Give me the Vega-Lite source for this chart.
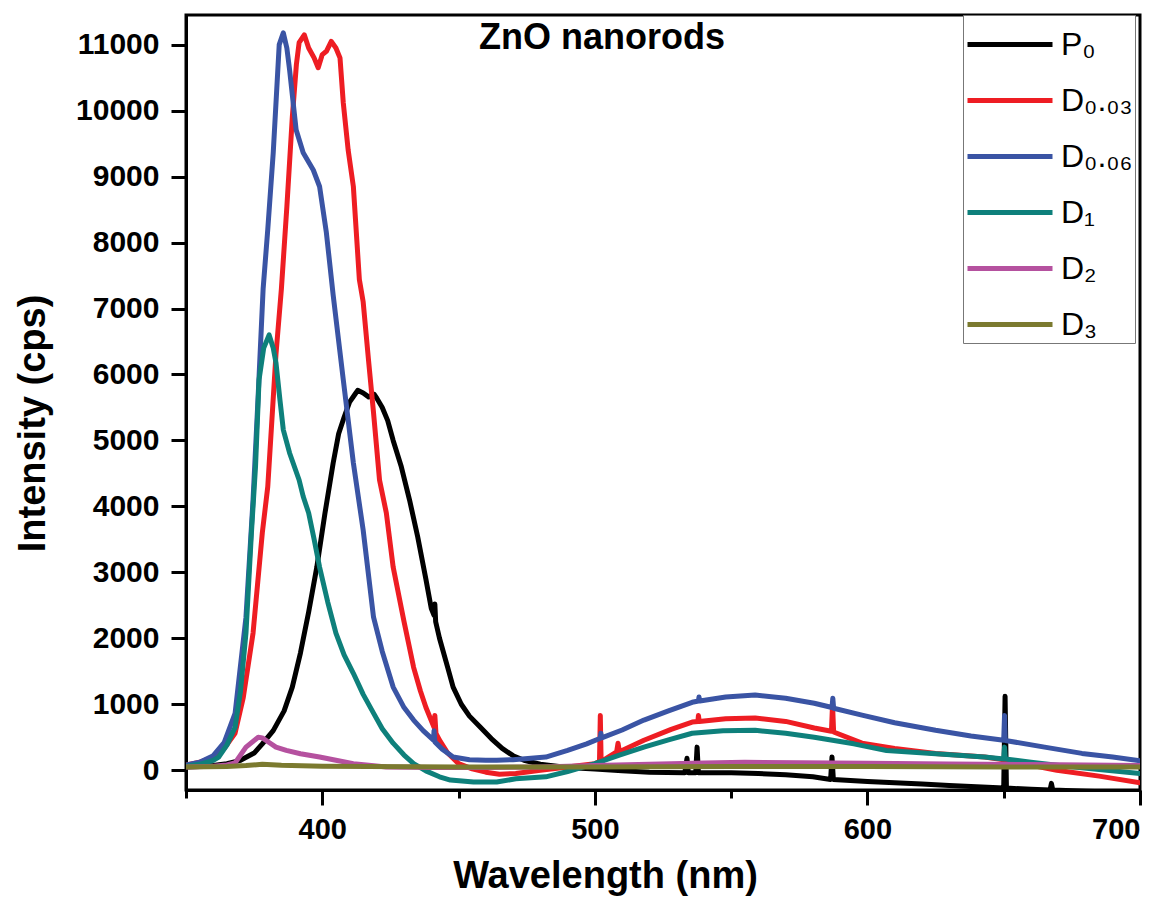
{
  "$schema": "https://vega.github.io/schema/vega-lite/v6.json",
  "width": 954,
  "height": 775,
  "autosize": {"type": "none"},
  "padding": {"left": 186, "top": 15, "right": 27, "bottom": 107},
  "background": "white",
  "config": {
    "view": {"stroke": "black", "strokeWidth": 3},
    "font": "Liberation Sans",
    "axis": {"grid": false, "domainColor": "black", "tickColor": "black", "domainWidth": 3, "tickWidth": 3, "labelColor": "black", "titleColor": "black", "labelFont": "Liberation Sans", "titleFont": "Liberation Sans"}
  },
  "layer": [
    {
      "data": {"values": [
        {"s":"P₀","x":350,"y":50},{"s":"P₀","x":355,"y":55},{"s":"P₀","x":360,"y":70},{"s":"P₀","x":365,"y":100},{"s":"P₀","x":370,"y":150},{"s":"P₀","x":375,"y":260},{"s":"P₀","x":378,"y":400},{"s":"P₀","x":382,"y":600},{"s":"P₀","x":386,"y":900},{"s":"P₀","x":389,"y":1260},{"s":"P₀","x":392,"y":1780},{"s":"P₀","x":395,"y":2400},{"s":"P₀","x":398,"y":3080},{"s":"P₀","x":401,"y":3900},{"s":"P₀","x":404,"y":4660},{"s":"P₀","x":406,"y":5100},{"s":"P₀","x":408,"y":5350},{"s":"P₀","x":410,"y":5580},{"s":"P₀","x":412,"y":5700},{"s":"P₀","x":413,"y":5760},{"s":"P₀","x":415,"y":5720},{"s":"P₀","x":417,"y":5660},{"s":"P₀","x":419,"y":5700},{"s":"P₀","x":420,"y":5640},{"s":"P₀","x":422,"y":5500},{"s":"P₀","x":424,"y":5300},{"s":"P₀","x":426,"y":5000},{"s":"P₀","x":429,"y":4600},{"s":"P₀","x":432,"y":4100},{"s":"P₀","x":435,"y":3540},{"s":"P₀","x":438,"y":2900},{"s":"P₀","x":440,"y":2450},{"s":"P₀","x":441,"y":2350},{"s":"P₀","x":441.3,"y":2520},{"s":"P₀","x":441.6,"y":2250},{"s":"P₀","x":443,"y":2000},{"s":"P₀","x":446,"y":1560},{"s":"P₀","x":448,"y":1260},{"s":"P₀","x":451,"y":1000},{"s":"P₀","x":454,"y":820},{"s":"P₀","x":458,"y":650},{"s":"P₀","x":462,"y":480},{"s":"P₀","x":466,"y":330},{"s":"P₀","x":470,"y":220},{"s":"P₀","x":474,"y":150},{"s":"P₀","x":480,"y":90},{"s":"P₀","x":490,"y":40},{"s":"P₀","x":500,"y":20},{"s":"P₀","x":510,"y":-10},{"s":"P₀","x":520,"y":-30},{"s":"P₀","x":533,"y":-40},{"s":"P₀","x":533.8,"y":180},{"s":"P₀","x":534.3,"y":-40},{"s":"P₀","x":537,"y":-40},{"s":"P₀","x":537.5,"y":350},{"s":"P₀","x":538,"y":-40},{"s":"P₀","x":550,"y":-40},{"s":"P₀","x":560,"y":-50},{"s":"P₀","x":570,"y":-70},{"s":"P₀","x":580,"y":-100},{"s":"P₀","x":586.5,"y":-140},{"s":"P₀","x":587,"y":200},{"s":"P₀","x":587.5,"y":-140},{"s":"P₀","x":600,"y":-170},{"s":"P₀","x":610,"y":-190},{"s":"P₀","x":620,"y":-210},{"s":"P₀","x":630,"y":-230},{"s":"P₀","x":640,"y":-250},{"s":"P₀","x":650,"y":-270},{"s":"P₀","x":650.5,"y":1120},{"s":"P₀","x":651,"y":-270},{"s":"P₀","x":660,"y":-290},{"s":"P₀","x":667,"y":-300},{"s":"P₀","x":667.5,"y":-200},{"s":"P₀","x":668,"y":-300},{"s":"P₀","x":680,"y":-320},{"s":"P₀","x":690,"y":-330},{"s":"P₀","x":700,"y":-340},

        {"s":"D₀.₀₃","x":350,"y":80},{"s":"D₀.₀₃","x":355,"y":120},{"s":"D₀.₀₃","x":360,"y":200},{"s":"D₀.₀₃","x":364,"y":330},{"s":"D₀.₀₃","x":368,"y":560},{"s":"D₀.₀₃","x":371,"y":1100},{"s":"D₀.₀₃","x":374.6,"y":2080},{"s":"D₀.₀₃","x":378,"y":3600},{"s":"D₀.₀₃","x":380,"y":4300},{"s":"D₀.₀₃","x":383,"y":6300},{"s":"D₀.₀₃","x":385,"y":7300},{"s":"D₀.₀₃","x":387,"y":8540},{"s":"D₀.₀₃","x":389,"y":9900},{"s":"D₀.₀₃","x":390.5,"y":10700},{"s":"D₀.₀₃","x":391.5,"y":11030},{"s":"D₀.₀₃","x":393.4,"y":11150},{"s":"D₀.₀₃","x":395,"y":10950},{"s":"D₀.₀₃","x":397,"y":10800},{"s":"D₀.₀₃","x":398.5,"y":10650},{"s":"D₀.₀₃","x":400,"y":10850},{"s":"D₀.₀₃","x":401.5,"y":10900},{"s":"D₀.₀₃","x":403.3,"y":11050},{"s":"D₀.₀₃","x":405,"y":10950},{"s":"D₀.₀₃","x":406.5,"y":10800},{"s":"D₀.₀₃","x":407.7,"y":10120},{"s":"D₀.₀₃","x":409.5,"y":9400},{"s":"D₀.₀₃","x":411.4,"y":8850},{"s":"D₀.₀₃","x":413.6,"y":7440},{"s":"D₀.₀₃","x":415,"y":7100},{"s":"D₀.₀₃","x":417,"y":6200},{"s":"D₀.₀₃","x":418.8,"y":5420},{"s":"D₀.₀₃","x":421,"y":4400},{"s":"D₀.₀₃","x":423.5,"y":3900},{"s":"D₀.₀₃","x":426,"y":3080},{"s":"D₀.₀₃","x":430,"y":2250},{"s":"D₀.₀₃","x":433.5,"y":1560},{"s":"D₀.₀₃","x":436,"y":1200},{"s":"D₀.₀₃","x":438,"y":955},{"s":"D₀.₀₃","x":441,"y":650},{"s":"D₀.₀₃","x":441.3,"y":830},{"s":"D₀.₀₃","x":441.7,"y":560},{"s":"D₀.₀₃","x":443,"y":455},{"s":"D₀.₀₃","x":446,"y":260},{"s":"D₀.₀₃","x":450,"y":100},{"s":"D₀.₀₃","x":455,"y":20},{"s":"D₀.₀₃","x":460,"y":-30},{"s":"D₀.₀₃","x":465,"y":-60},{"s":"D₀.₀₃","x":471,"y":-50},{"s":"D₀.₀₃","x":480,"y":0},{"s":"D₀.₀₃","x":490,"y":50},{"s":"D₀.₀₃","x":500,"y":100},{"s":"D₀.₀₃","x":501.7,"y":130},{"s":"D₀.₀₃","x":502,"y":830},{"s":"D₀.₀₃","x":502.3,"y":130},{"s":"D₀.₀₃","x":508,"y":280},{"s":"D₀.₀₃","x":508.5,"y":410},{"s":"D₀.₀₃","x":509,"y":280},{"s":"D₀.₀₃","x":518,"y":455},{"s":"D₀.₀₃","x":528,"y":620},{"s":"D₀.₀₃","x":535.7,"y":730},{"s":"D₀.₀₃","x":537.8,"y":740},{"s":"D₀.₀₃","x":538,"y":830},{"s":"D₀.₀₃","x":538.3,"y":740},{"s":"D₀.₀₃","x":548,"y":780},{"s":"D₀.₀₃","x":558.8,"y":790},{"s":"D₀.₀₃","x":570,"y":740},{"s":"D₀.₀₃","x":580.5,"y":640},{"s":"D₀.₀₃","x":586.8,"y":590},{"s":"D₀.₀₃","x":587.2,"y":1000},{"s":"D₀.₀₃","x":587.6,"y":580},{"s":"D₀.₀₃","x":598,"y":410},{"s":"D₀.₀₃","x":610,"y":330},{"s":"D₀.₀₃","x":625,"y":255},{"s":"D₀.₀₃","x":643,"y":200},{"s":"D₀.₀₃","x":650,"y":160},{"s":"D₀.₀₃","x":656,"y":110},{"s":"D₀.₀₃","x":669.5,"y":0},{"s":"D₀.₀₃","x":685,"y":-90},{"s":"D₀.₀₃","x":700,"y":-190},

        {"s":"D₀.₀₆","x":350,"y":80},{"s":"D₀.₀₆","x":355,"y":120},{"s":"D₀.₀₆","x":360,"y":220},{"s":"D₀.₀₆","x":364,"y":420},{"s":"D₀.₀₆","x":368,"y":860},{"s":"D₀.₀₆","x":372,"y":2320},{"s":"D₀.₀₆","x":374.6,"y":4100},{"s":"D₀.₀₆","x":376.5,"y":5700},{"s":"D₀.₀₆","x":378.3,"y":7300},{"s":"D₀.₀₆","x":380,"y":8200},{"s":"D₀.₀₆","x":382,"y":9360},{"s":"D₀.₀₆","x":384.2,"y":11000},{"s":"D₀.₀₆","x":385.7,"y":11180},{"s":"D₀.₀₆","x":387,"y":10950},{"s":"D₀.₀₆","x":388,"y":10620},{"s":"D₀.₀₆","x":390.4,"y":9710},{"s":"D₀.₀₆","x":393,"y":9360},{"s":"D₀.₀₆","x":396.7,"y":9100},{"s":"D₀.₀₆","x":399,"y":8850},{"s":"D₀.₀₆","x":401.5,"y":8150},{"s":"D₀.₀₆","x":404,"y":7200},{"s":"D₀.₀₆","x":407.7,"y":5920},{"s":"D₀.₀₆","x":411.4,"y":4660},{"s":"D₀.₀₆","x":415,"y":3640},{"s":"D₀.₀₆","x":418.8,"y":2320},{"s":"D₀.₀₆","x":422,"y":1800},{"s":"D₀.₀₆","x":426,"y":1260},{"s":"D₀.₀₆","x":430,"y":950},{"s":"D₀.₀₆","x":433.5,"y":760},{"s":"D₀.₀₆","x":437,"y":600},{"s":"D₀.₀₆","x":440.8,"y":455},{"s":"D₀.₀₆","x":441,"y":600},{"s":"D₀.₀₆","x":441.3,"y":430},{"s":"D₀.₀₆","x":444,"y":320},{"s":"D₀.₀₆","x":448,"y":200},{"s":"D₀.₀₆","x":454,"y":160},{"s":"D₀.₀₆","x":460,"y":150},{"s":"D₀.₀₆","x":464,"y":150},{"s":"D₀.₀₆","x":470,"y":160},{"s":"D₀.₀₆","x":482,"y":200},{"s":"D₀.₀₆","x":490,"y":300},{"s":"D₀.₀₆","x":497,"y":400},{"s":"D₀.₀₆","x":502,"y":485},{"s":"D₀.₀₆","x":502.2,"y":560},{"s":"D₀.₀₆","x":502.5,"y":490},{"s":"D₀.₀₆","x":510,"y":610},{"s":"D₀.₀₆","x":518,"y":760},{"s":"D₀.₀₆","x":527,"y":900},{"s":"D₀.₀₆","x":535.7,"y":1030},{"s":"D₀.₀₆","x":538,"y":1050},{"s":"D₀.₀₆","x":538.2,"y":1110},{"s":"D₀.₀₆","x":538.5,"y":1050},{"s":"D₀.₀₆","x":548,"y":1110},{"s":"D₀.₀₆","x":558.8,"y":1140},{"s":"D₀.₀₆","x":570,"y":1090},{"s":"D₀.₀₆","x":580.5,"y":1015},{"s":"D₀.₀₆","x":587,"y":950},{"s":"D₀.₀₆","x":587.3,"y":1090},{"s":"D₀.₀₆","x":587.6,"y":940},{"s":"D₀.₀₆","x":598,"y":835},{"s":"D₀.₀₆","x":610,"y":720},{"s":"D₀.₀₆","x":625,"y":605},{"s":"D₀.₀₆","x":638,"y":520},{"s":"D₀.₀₆","x":650,"y":455},{"s":"D₀.₀₆","x":650.3,"y":830},{"s":"D₀.₀₆","x":650.6,"y":450},{"s":"D₀.₀₆","x":665,"y":350},{"s":"D₀.₀₆","x":678.7,"y":255},{"s":"D₀.₀₆","x":690,"y":200},{"s":"D₀.₀₆","x":700,"y":145},

        {"s":"D₁","x":350,"y":60},{"s":"D₁","x":355,"y":90},{"s":"D₁","x":360,"y":150},{"s":"D₁","x":362,"y":200},{"s":"D₁","x":365,"y":380},{"s":"D₁","x":368,"y":650},{"s":"D₁","x":370,"y":1200},{"s":"D₁","x":372,"y":2080},{"s":"D₁","x":374,"y":3600},{"s":"D₁","x":375.5,"y":4600},{"s":"D₁","x":376.8,"y":5920},{"s":"D₁","x":378.5,"y":6400},{"s":"D₁","x":380.5,"y":6600},{"s":"D₁","x":382,"y":6400},{"s":"D₁","x":383,"y":6180},{"s":"D₁","x":384.5,"y":5600},{"s":"D₁","x":385.7,"y":5160},{"s":"D₁","x":388,"y":4810},{"s":"D₁","x":391.5,"y":4400},{"s":"D₁","x":393,"y":4150},{"s":"D₁","x":395,"y":3900},{"s":"D₁","x":397,"y":3500},{"s":"D₁","x":399,"y":3080},{"s":"D₁","x":402,"y":2550},{"s":"D₁","x":405,"y":2080},{"s":"D₁","x":408,"y":1750},{"s":"D₁","x":411.4,"y":1470},{"s":"D₁","x":415,"y":1150},{"s":"D₁","x":418.8,"y":865},{"s":"D₁","x":422,"y":630},{"s":"D₁","x":426,"y":410},{"s":"D₁","x":430,"y":230},{"s":"D₁","x":433.5,"y":100},{"s":"D₁","x":438,"y":-10},{"s":"D₁","x":443,"y":-100},{"s":"D₁","x":447,"y":-150},{"s":"D₁","x":455.5,"y":-180},{"s":"D₁","x":464,"y":-180},{"s":"D₁","x":471,"y":-130},{"s":"D₁","x":482,"y":-100},{"s":"D₁","x":490,"y":-20},{"s":"D₁","x":500,"y":100},{"s":"D₁","x":509,"y":230},{"s":"D₁","x":518,"y":350},{"s":"D₁","x":527,"y":460},{"s":"D₁","x":535.7,"y":560},{"s":"D₁","x":547,"y":600},{"s":"D₁","x":558.8,"y":605},{"s":"D₁","x":570,"y":560},{"s":"D₁","x":580.5,"y":500},{"s":"D₁","x":595,"y":400},{"s":"D₁","x":607,"y":300},{"s":"D₁","x":625,"y":250},{"s":"D₁","x":643,"y":200},{"s":"D₁","x":650,"y":170},{"s":"D₁","x":650.3,"y":350},{"s":"D₁","x":650.6,"y":170},{"s":"D₁","x":660,"y":120},{"s":"D₁","x":669.5,"y":75},{"s":"D₁","x":685,"y":10},{"s":"D₁","x":700,"y":-50},

        {"s":"D₂","x":350,"y":50},{"s":"D₂","x":360,"y":60},{"s":"D₂","x":365,"y":80},{"s":"D₂","x":368,"y":110},{"s":"D₂","x":372,"y":350},{"s":"D₂","x":376.5,"y":500},{"s":"D₂","x":378,"y":490},{"s":"D₂","x":380.5,"y":420},{"s":"D₂","x":383,"y":350},{"s":"D₂","x":386.8,"y":300},{"s":"D₂","x":392,"y":250},{"s":"D₂","x":399,"y":200},{"s":"D₂","x":405,"y":150},{"s":"D₂","x":411.4,"y":100},{"s":"D₂","x":418,"y":70},{"s":"D₂","x":423.5,"y":50},{"s":"D₂","x":440,"y":40},{"s":"D₂","x":460,"y":40},{"s":"D₂","x":480,"y":50},{"s":"D₂","x":500,"y":70},{"s":"D₂","x":520,"y":90},{"s":"D₂","x":540,"y":110},{"s":"D₂","x":555,"y":120},{"s":"D₂","x":575,"y":115},{"s":"D₂","x":600,"y":105},{"s":"D₂","x":630,"y":95},{"s":"D₂","x":660,"y":85},{"s":"D₂","x":700,"y":70},

        {"s":"D₃","x":350,"y":50},{"s":"D₃","x":365,"y":55},{"s":"D₃","x":372,"y":70},{"s":"D₃","x":378,"y":90},{"s":"D₃","x":385,"y":75},{"s":"D₃","x":400,"y":60},{"s":"D₃","x":450,"y":50},{"s":"D₃","x":500,"y":50},{"s":"D₃","x":550,"y":55},{"s":"D₃","x":600,"y":55},{"s":"D₃","x":650,"y":50},{"s":"D₃","x":700,"y":50}
      ]},
      "mark": {"type": "line", "strokeWidth": 5, "clip": true, "strokeJoin": "round", "strokeCap": "round"},
      "encoding": {
        "x": {"field": "x", "type": "quantitative", "scale": {"domain": [350, 700], "nice": false, "zero": false},
          "axis": {"orient": "bottom", "values": [350, 400, 450, 500, 550, 600, 650, 700],
            "labelExpr": "datum.value % 100 == 0 ? datum.label : ''",
            "tickSize": {"condition": {"test": "datum.value % 100 == 0", "value": 15}, "value": 8},
            "labelFontSize": 29, "labelFontWeight": "bold", "labelPadding": 10,
            "title": "Wavelength (nm)", "titleFontSize": 38, "titleFontWeight": "bold", "titleX": 419, "titleY": 67, "titleAlign": "center", "titleBaseline": "top"}},
        "y": {"field": "y", "type": "quantitative", "scale": {"domain": [-300, 11450], "nice": false, "zero": false},
          "axis": {"orient": "left", "format": "d",
            "values": [0, 500, 1000, 1500, 2000, 2500, 3000, 3500, 4000, 4500, 5000, 5500, 6000, 6500, 7000, 7500, 8000, 8500, 9000, 9500, 10000, 10500, 11000],
            "labelExpr": "datum.value % 1000 == 0 ? datum.label : ''",
            "tickSize": {"condition": {"test": "datum.value % 1000 == 0", "value": 15}, "value": 8},
            "labelFontSize": 30, "labelFontWeight": "bold", "labelPadding": 12,
            "title": "Intensity (cps)", "titleFontSize": 38, "titleFontWeight": "bold", "titleX": -172, "titleY": 408, "titleAlign": "center", "titleBaseline": "top", "titleAngle": -90}},
        "color": {"field": "s", "type": "nominal", "sort": ["P₀", "D₀.₀₃", "D₀.₀₆", "D₁", "D₂", "D₃"],
          "scale": {"domain": ["P₀", "D₀.₀₃", "D₀.₀₆", "D₁", "D₂", "D₃"], "range": ["#000000", "#EE1D23", "#3A54A4", "#0E807B", "#B5519F", "#7B7A2F"]},
          "legend": {"title": null, "orient": "none", "legendX": 777, "legendY": 0, "symbolType": "M-1,0H2.4", "symbolSize": 2500, "symbolStrokeWidth": 5,
            "labelFontSize": 32, "labelFont": "Liberation Sans", "labelColor": "black", "labelOffset": 41, "rowPadding": 12, "padding": 2,
            "strokeColor": "#777777", "fillColor": "white", "cornerRadius": 0}}
      }
    },
    {
      "data": {"values": [{"t": "ZnO nanorods", "x": 502.6, "y": 10940}]},
      "mark": {"type": "text", "fontSize": 36, "fontWeight": "bold", "align": "center", "baseline": "alphabetic", "font": "Liberation Sans", "color": "black"},
      "encoding": {
        "text": {"field": "t", "type": "nominal"},
        "x": {"field": "x", "type": "quantitative"},
        "y": {"field": "y", "type": "quantitative"}
      }
    }
  ]
}
